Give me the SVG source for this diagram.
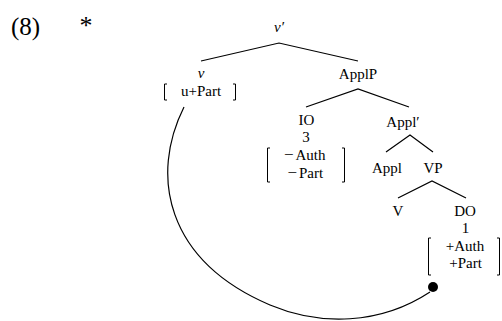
<svg xmlns="http://www.w3.org/2000/svg" width="502" height="321" viewBox="0 0 502 321">
<style>
text{font-family:"Liberation Serif","Times New Roman",serif;font-size:15px;fill:#000;text-anchor:middle}
.it{font-style:italic}
.l{text-anchor:start}
.m{font-size:17px}
.br{fill:none;stroke:#000;stroke-width:1}
.e{fill:none;stroke:#000;stroke-width:1.2}
</style>
<rect width="502" height="321" fill="#fff"/>
<text x="25.5" y="35" style="font-size:25px">(8)</text>
<text x="86" y="34" style="font-size:26px">*</text>
<g id="n-vbar"><text class="it" x="279" y="32">v′</text></g>
<g id="n-v"><text class="it" x="201" y="78">v</text><text x="201" y="96">u+Part</text>
<path class="br" d="M167,84 H164.5 V100 H167 M233,84 H235.5 V100 H233"/></g>
<g id="n-applp"><text x="358" y="79">ApplP</text></g>
<g id="n-io"><text x="306.5" y="125">IO</text><text x="306" y="142">3</text>
<text class="l" y="160"><tspan class="m" x="284">−</tspan><tspan x="295.5">Auth</tspan></text>
<text class="l" y="178"><tspan class="m" x="287.5">−</tspan><tspan x="299">Part</tspan></text>
<path class="br" d="M270,148 H267.5 V182 H270 M342,148 H344.5 V182 H342"/></g>
<g id="n-applbar"><text x="403" y="127">Appl′</text></g>
<g id="n-appl"><text x="387" y="173">Appl</text></g>
<g id="n-vp"><text x="433" y="173">VP</text></g>
<g id="n-V"><text x="398" y="216">V</text></g>
<g id="n-do"><text x="465" y="216">DO</text><text x="465.5" y="233">1</text><text x="465" y="251">+Auth</text><text x="465.5" y="268">+Part</text>
<path class="br" d="M431,238 H428.5 V275 H431 M497,238 H499.5 V275 H497"/></g>
<g id="connectors">
<path class="e" d="M201,61 L279,43 L358,61"/>
<path class="e" d="M306,107 L358,89 L409,107"/>
<path class="e" d="M386,152 L410,135 L433,152"/>
<path class="e" d="M398,198 L432,181 L466,198"/>
<path class="e" d="M184,107 C150,175 165,260 270,305 C320,326 380,325 430,292"/>
<circle cx="433" cy="287" r="5" fill="#000"/>
</g>
</svg>
